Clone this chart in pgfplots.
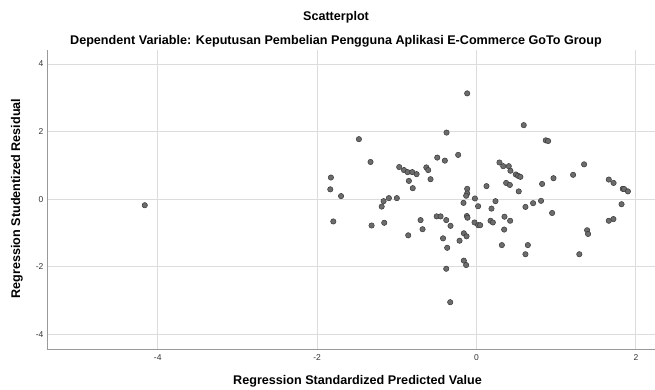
\documentclass[border=0pt]{standalone}
\usepackage{pgfplots}
\pgfplotsset{compat=1.18}
\usepackage{fontspec}
\setmainfont{Liberation Sans}
\definecolor{dotfill}{HTML}{6C6C6C}
\definecolor{dotedge}{HTML}{383838}
\definecolor{gridc}{HTML}{DCDCDC}
\definecolor{axisc}{HTML}{9A9A9A}
\begin{document}
\begin{tikzpicture}
\path[use as bounding box] (0,0) rectangle (655pt,389pt);
\begin{axis}[
  at={(47pt,40pt)}, anchor=south west,
  scale only axis, width=608pt, height=299pt,
  xmin=-5.39, xmax=2.24, ymin=-4.435, ymax=4.414,
  axis x line*=bottom, axis y line*=left,
  axis line style={axisc, line width=0.9pt},
  xtick={-4,-2,0,2}, ytick={-4,-2,0,2,4},
  grid=major, major grid style={gridc, line width=0.9pt},
  tick style={draw=none},
  /pgf/number format/assume math mode=true,
  tick label style={font=\fontsize{8.5}{10}\selectfont, text=black!80},
  xticklabel style={yshift=-2pt},
]
\addplot[only marks, mark=*, mark size=2.7pt,
  mark options={fill=dotfill, draw=dotedge, line width=0.5pt}] coordinates {
(-4.163,-0.18) (-1.827,0.64) (-1.835,0.29) (-1.70,0.09) (-1.797,-0.66)
(-1.476,1.775) (-1.33,1.10) (-1.317,-0.78) (-1.166,-0.06) (-1.19,-0.22)
(-1.158,-0.70) (-1.10,0.03) (-1.00,0.03) (-0.97,0.95) (-0.91,0.86)
(-0.865,0.80) (-0.806,0.80) (-0.752,0.74) (-0.849,0.54) (-0.80,0.325)
(-0.857,-1.07) (-0.63,0.94) (-0.606,0.86) (-0.577,0.59) (-0.702,-0.62)
(-0.677,-0.89) (-0.493,1.23) (-0.397,1.14) (-0.376,1.97) (-0.23,1.31)
(-0.50,-0.51) (-0.451,-0.51) (-0.38,-0.62) (-0.326,-0.79) (-0.42,-1.16)
(-0.368,-1.44) (-0.38,-2.06) (-0.33,-3.05) (-0.213,-1.23) (-0.117,3.13)
(-0.117,0.305) (-0.117,0.17) (-0.13,0.10) (-0.163,-0.11) (-0.02,0.02)
(0.02,-0.21) (0.125,0.385) (0.238,-0.06) (0.188,-0.28) (-0.121,-0.50)
(-0.113,-0.55) (-0.025,-0.69) (0.021,-0.77) (0.046,-0.77) (0.176,-0.64)
(0.205,-0.69) (0.351,-0.52) (0.422,-0.64) (0.347,-0.90) (0.318,-1.36)
(-0.159,-1.01) (-0.125,-1.10) (-0.159,-1.82) (-0.13,-1.95) (0.288,1.085)
(0.335,0.976) (0.405,0.976) (0.426,0.84) (0.493,0.73) (0.522,0.69)
(0.55,0.66) (0.372,0.48) (0.418,0.42) (0.53,0.23) (0.593,2.19)
(0.869,1.74) (0.899,1.72) (0.614,-0.23) (0.71,-0.12) (0.81,-0.05)
(0.949,-0.41) (0.644,-1.36) (0.614,-1.63) (0.823,0.45) (0.966,0.62)
(1.212,0.72) (1.35,1.03) (1.29,-1.63) (1.388,-0.92) (1.40,-1.03)
(1.66,0.58) (1.72,0.48) (1.835,0.305) (1.852,0.30) (1.90,0.23)
(1.82,-0.15) (1.66,-0.64) (1.718,-0.59)
};
\end{axis}
\node[font=\bfseries\fontsize{12.6}{14}\selectfont] at (336pt,372pt) {Scatterplot};
\node[font=\bfseries\fontsize{12.6}{14}\selectfont] at (336pt,348pt) {Dependent Variable: Keputusan Pembelian Pengguna Aplikasi E-Commerce GoTo Group};
\node[font=\bfseries\fontsize{12.6}{14}\selectfont] at (357.5pt,8pt) {Regression Standardized Predicted Value};
\node[font=\bfseries\fontsize{12.6}{14}\selectfont, rotate=90] at (17pt,190.5pt) {Regression Studentized Residual};
\end{tikzpicture}
\end{document}
